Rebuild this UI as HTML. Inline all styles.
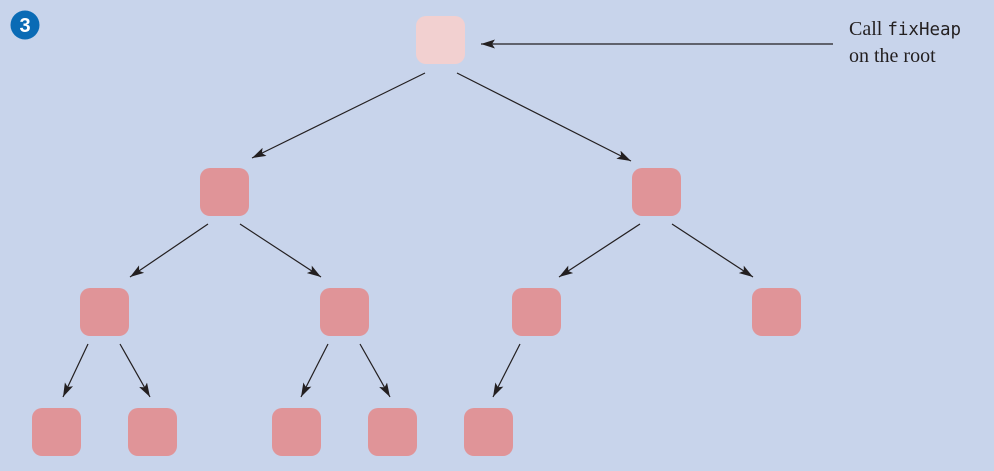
<!DOCTYPE html>
<html><head><style>
html,body{margin:0;padding:0;background:#c8d4eb;}
svg{display:block}
</style></head><body>
<svg width="994" height="471" viewBox="0 0 994 471" xmlns="http://www.w3.org/2000/svg">
<defs>
<marker id="a" viewBox="0 0 14 9" refX="14" refY="4.5" markerWidth="14" markerHeight="9" markerUnits="userSpaceOnUse" orient="auto">
<path d="M0,0 L14,4.5 L0,9 L3,4.5 Z" fill="#231f20"/>
</marker>
</defs>
<rect width="994" height="471" fill="#c8d4eb"/>
<circle cx="25" cy="25" r="14.5" fill="#0a6bb5"/>
<text x="25" y="32" text-anchor="middle" font-family="Liberation Sans, sans-serif" font-weight="bold" font-size="20" fill="#fff">3</text>
<g fill="#e09498">
<rect x="416" y="16" width="49" height="48" rx="10" fill="#f2d0d0"/>
<rect x="200" y="168" width="49" height="48" rx="10"/>
<rect x="632" y="168" width="49" height="48" rx="10"/>
<rect x="80" y="288" width="49" height="48" rx="10"/>
<rect x="320" y="288" width="49" height="48" rx="10"/>
<rect x="512" y="288" width="49" height="48" rx="10"/>
<rect x="752" y="288" width="49" height="48" rx="10"/>
<rect x="32" y="408" width="49" height="48" rx="10"/>
<rect x="128" y="408" width="49" height="48" rx="10"/>
<rect x="272" y="408" width="49" height="48" rx="10"/>
<rect x="368" y="408" width="49" height="48" rx="10"/>
<rect x="464" y="408" width="49" height="48" rx="10"/>
</g>
<g stroke="#231f20" stroke-width="1.2" marker-end="url(#a)" fill="none">
<line x1="833" y1="44" x2="481" y2="44"/>
<line x1="425" y1="73" x2="252" y2="158"/>
<line x1="457" y1="73" x2="631" y2="161"/>
<line x1="208" y1="224" x2="130" y2="277"/>
<line x1="240" y1="224" x2="321" y2="277"/>
<line x1="640" y1="224" x2="559" y2="277"/>
<line x1="672" y1="224" x2="753" y2="277"/>
<line x1="88" y1="344" x2="63" y2="397"/>
<line x1="120" y1="344" x2="150" y2="397"/>
<line x1="328" y1="344" x2="301" y2="397"/>
<line x1="360" y1="344" x2="390" y2="397"/>
<line x1="520" y1="344" x2="493" y2="397"/>
</g>
<text x="849" y="35" font-family="Liberation Serif, serif" font-size="20" fill="#231f20">Call <tspan font-family="DejaVu Sans Mono, monospace" font-size="17.5">fixHeap</tspan></text>
<text x="849" y="62" font-family="Liberation Serif, serif" font-size="20" fill="#231f20">on the root</text>
</svg>
</body></html>
